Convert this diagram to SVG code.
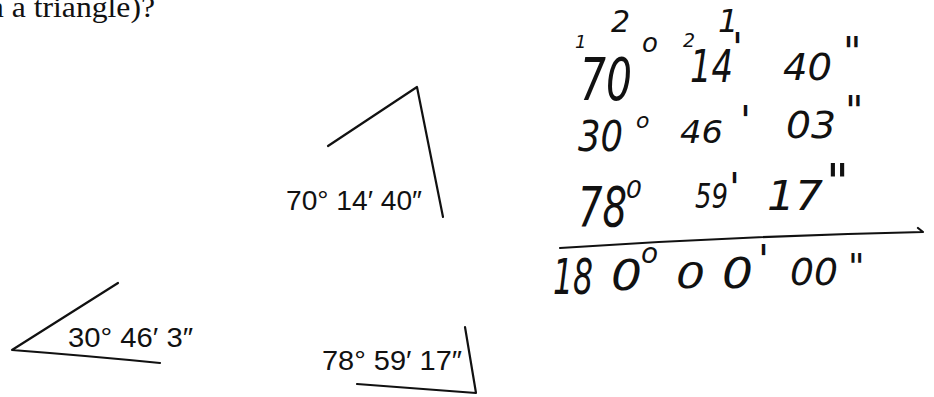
<svg xmlns="http://www.w3.org/2000/svg" width="934" height="397" viewBox="0 0 934 397">
<style>
.q{font-family:"Liberation Serif","Times New Roman",serif;font-size:30px;fill:#111}
.lab{font-family:"Liberation Sans",Arial,sans-serif;font-size:27px;fill:#111}
.ln{fill:none;stroke:#111;stroke-width:2.2;stroke-linecap:round;stroke-linejoin:round}
.hw{font-family:"DejaVu Sans","Liberation Sans",sans-serif;font-style:italic;font-weight:200;fill:#111}
</style>
<rect width="934" height="397" fill="#fff"/>
<text class="q" x="-12" y="17" textLength="167" lengthAdjust="spacingAndGlyphs">n a triangle)?</text>
<g id="angle1">
<path class="ln" d="M328,146 L417,87 L443,217"/>
<text class="lab" x="286" y="210" textLength="136" lengthAdjust="spacingAndGlyphs">70° 14′ 40″</text>
</g>
<g id="angle2">
<path class="ln" d="M118,283 L12,350 Q90,356 160,363"/>
<text class="lab" x="68" y="347" textLength="125" lengthAdjust="spacingAndGlyphs">30° 46′ 3″</text>
</g>
<g id="angle3">
<path class="ln" d="M465,327 L476,393 L357,384"/>
<text class="lab" x="322" y="370" textLength="140" lengthAdjust="spacingAndGlyphs">78° 59′ 17″</text>
</g>
<g id="handwork">
<text class="hw" x="575" y="48" font-size="18">1</text>
<text class="hw" x="611" y="32" font-size="30">2</text>
<text class="hw" x="642" y="52" font-size="26">o</text>
<text class="hw" x="683" y="47" font-size="19">2</text>
<text class="hw" x="718" y="32" font-size="32">1</text>
<text class="hw" x="580" y="100" font-size="58" textLength="52" lengthAdjust="spacingAndGlyphs">70</text>
<text class="hw" x="690" y="82" font-size="44" textLength="43" lengthAdjust="spacingAndGlyphs">14</text>
<text class="hw" x="732" y="62" font-size="40">'</text>
<text class="hw" x="783" y="80" font-size="38" textLength="49" lengthAdjust="spacingAndGlyphs">40</text>
<text class="hw" x="843" y="66" font-size="40">"</text>
<text class="hw" x="578" y="151" font-size="42" textLength="45" lengthAdjust="spacingAndGlyphs">30</text>
<text class="hw" x="636" y="128" font-size="22">o</text>
<text class="hw" x="680" y="143" font-size="32" textLength="43" lengthAdjust="spacingAndGlyphs">46</text>
<text class="hw" x="740" y="135" font-size="40">'</text>
<text class="hw" x="786" y="138" font-size="38" textLength="50" lengthAdjust="spacingAndGlyphs">03</text>
<text class="hw" x="845" y="125" font-size="40">"</text>
<text class="hw" x="578" y="226" font-size="56" textLength="49" lengthAdjust="spacingAndGlyphs">78</text>
<text class="hw" x="626" y="198" font-size="25">0</text>
<text class="hw" x="695" y="208" font-size="34" textLength="33" lengthAdjust="spacingAndGlyphs">59</text>
<text class="hw" x="729" y="202" font-size="40">'</text>
<text class="hw" x="767" y="210" font-size="40" textLength="56" lengthAdjust="spacingAndGlyphs">17</text>
<text class="hw" x="826" y="199" font-size="50">"</text>
<path class="ln" d="M560,248 Q740,236 923,232 L918,228" stroke-width="2.6"/>
<text class="hw" x="553" y="294" font-size="50" textLength="40" lengthAdjust="spacingAndGlyphs">18</text>
<text class="hw" x="611" y="290" font-size="42" textLength="31" lengthAdjust="spacingAndGlyphs">0</text>
<text class="hw" x="641" y="263" font-size="28">o</text>
<text class="hw" x="676" y="288" font-size="36" textLength="29" lengthAdjust="spacingAndGlyphs">0</text>
<text class="hw" x="722" y="288" font-size="42" textLength="31" lengthAdjust="spacingAndGlyphs">0</text>
<text class="hw" x="758" y="274" font-size="40">'</text>
<text class="hw" x="790" y="285" font-size="38" textLength="48" lengthAdjust="spacingAndGlyphs">00</text>
<text class="hw" x="848" y="279" font-size="36">"</text>
</g>
</svg>
